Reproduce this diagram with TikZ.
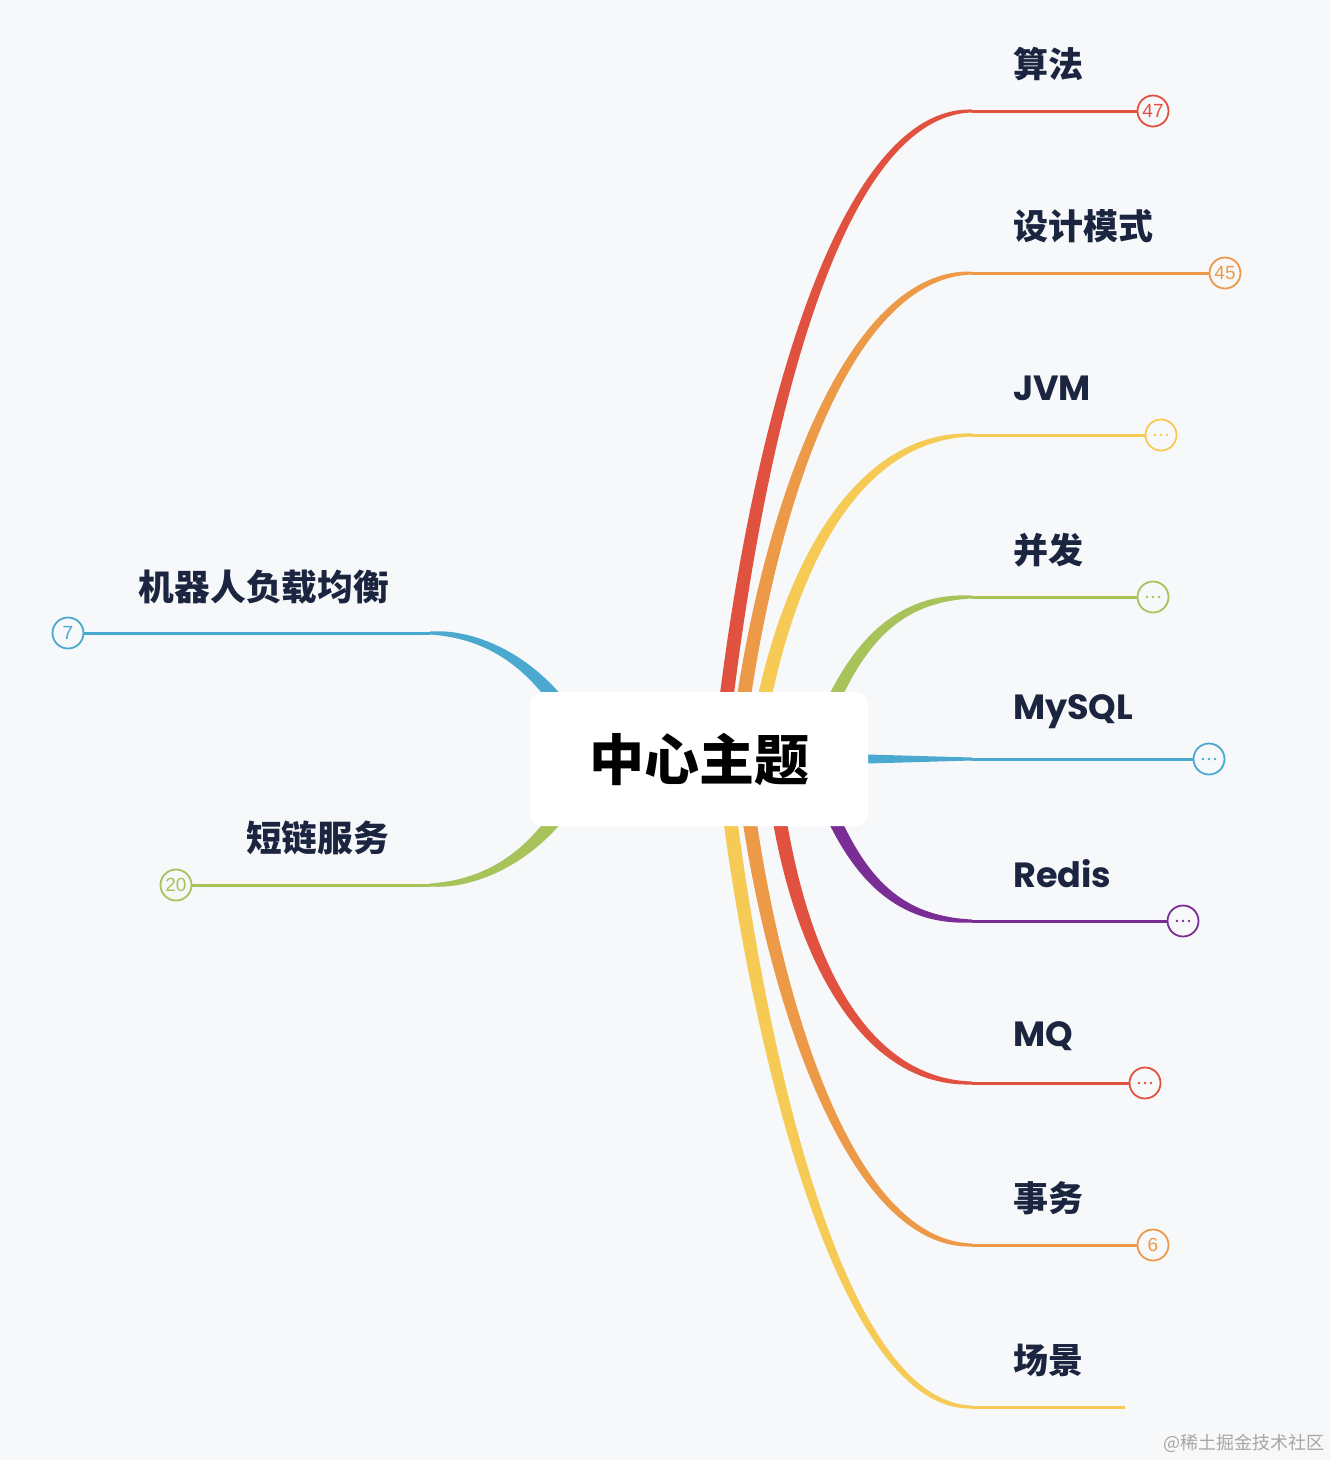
\documentclass[tikz,border=0pt]{standalone}
\usepackage{fontspec}
\newfontfamily\cjk{Noto Sans CJK SC}
\newfontfamily\latf{Poppins}
\setmainfont{Liberation Sans}
\definecolor{bg}{HTML}{F7F8FA}
\definecolor{cR}{HTML}{E0523F}
\definecolor{cO}{HTML}{EC9A48}
\definecolor{cY}{HTML}{F5CB55}
\definecolor{cG}{HTML}{A7C35A}
\definecolor{cB}{HTML}{4BA9CF}
\definecolor{cP}{HTML}{7A2E95}
\definecolor{navy}{HTML}{1B2540}
\newcommand\brUp[9]{\fill[#1] (#2-7,#3) .. controls (#4-7,#5) and (#6-2,#7-5) .. (#8,#9-1.5) -- (#8,#9+1.5) .. controls (#6+2,#7+5) and (#4+7,#5) .. (#2+7,#3) -- cycle;}
\newcommand\brDn[9]{\fill[#1] (#2-7,#3) .. controls (#4-7,#5) and (#6-2,#7+5) .. (#8,#9+1.5) -- (#8,#9-1.5) .. controls (#6+2,#7-5) and (#4+7,#5) .. (#2+7,#3) -- cycle;}
\tikzset{
  lab/.style={anchor=west, text=navy, inner sep=0pt, font=\cjk\bfseries\fontsize{35}{40}\selectfont},
  latlab/.style={anchor=west, text=navy, inner sep=0pt, font=\latf\bfseries\fontsize{35}{40}\selectfont},
  badge/.style={circle, draw=#1, line width=1.8pt, fill=bg, minimum size=31pt, inner sep=0pt, text=#1, font=\fontsize{19}{20}\selectfont},
  hline/.style={line width=3pt, draw=#1},
}
\newcommand\threedots[2]{\fill[#1] (#2) ++(-6,0) circle (1.3) ++(6,0) circle (1.3) ++(6,0) circle (1.3);}
\begin{document}
\begin{tikzpicture}[x=1pt,y=-1pt]
\fill[bg] (0,0) rectangle (1330,1460);
\useasboundingbox (0,0) rectangle (1330,1460);
% ---- right upper branches
\brUp{cO}{742}{710}{772}{500}{850}{273}{972}{273}
\brUp{cR}{725}{710}{760}{420}{840}{111}{972}{111}
\brUp{cY}{762}{710}{792}{560}{860}{435}{972}{435}
\brUp{cG}{828}{712}{860}{640}{900}{597}{972}{597}
% MySQL straight tapered
\fill[cB] (850,754) -- (972,757.5) -- (972,760.5) -- (850,764) -- cycle;
% ---- right lower branches
\brDn{cP}{828}{806}{860}{880}{900}{921}{972}{921}
\brDn{cR}{778}{810}{800}{950}{860}{1083}{972}{1083}
\brDn{cO}{748}{810}{775}{1000}{850}{1245}{972}{1245}
\brDn{cY}{729}{810}{760}{1050}{840}{1407}{972}{1407}
% ---- left branches
\fill[cB] (574,712) .. controls (539,660) and (480,628) .. (430,631.5) -- (430,634.5) .. controls (480,638) and (521,660) .. (556,712) -- cycle;
\fill[cG] (574,806) .. controls (539,858) and (480,890) .. (430,886.5) -- (430,883.5) .. controls (480,880) and (521,858) .. (556,806) -- cycle;
% ---- centre
\node[fill=white, rounded corners=12pt, minimum width=338pt, minimum height=134pt, inner sep=0pt, font=\cjk\bfseries\fontsize{55}{60}\selectfont] (c) at (699,759) {中心主题};
% ---- ends, badges, labels
\coordinate (e1) at (972,111);
\node[badge=cR] (b1) at (1153,111) {47};
\draw[hline=cR] (e1) -- (b1);
\node[lab] (l1) at (1013,64) {算法};
\coordinate (e2) at (972,273);
\node[badge=cO] (b2) at (1225,273) {45};
\draw[hline=cO] (e2) -- (b2);
\node[lab] (l2) at (1013,226) {设计模式};
\coordinate (e3) at (972,435);
\node[badge=cY] (b3) at (1161,435) {};
\threedots{cY}{b3}
\draw[hline=cY] (e3) -- (b3);
\node[latlab] (l3) at (1013,388) {JVM};
\coordinate (e4) at (972,597);
\node[badge=cG] (b4) at (1153,597) {};
\threedots{cG}{b4}
\draw[hline=cG] (e4) -- (b4);
\node[lab] (l4) at (1013,550) {并发};
\coordinate (e5) at (972,759);
\node[badge=cB] (b5) at (1209,759) {};
\threedots{cB}{b5}
\draw[hline=cB] (e5) -- (b5);
\node[latlab] (l5) at (1013,712) {MySQL};
\coordinate (e6) at (972,921);
\node[badge=cP] (b6) at (1183,921) {};
\threedots{cP}{b6}
\draw[hline=cP] (e6) -- (b6);
\node[latlab] (l6) at (1013,874) {Redis};
\coordinate (e7) at (972,1083);
\node[badge=cR] (b7) at (1145,1083) {};
\threedots{cR}{b7}
\draw[hline=cR] (e7) -- (b7);
\node[latlab] (l7) at (1013,1036) {MQ};
\coordinate (e8) at (972,1245);
\node[badge=cO] (b8) at (1153,1245) {6};
\draw[hline=cO] (e8) -- (b8);
\node[lab] (l8) at (1013,1198) {事务};
\coordinate (e9) at (972,1407);
\coordinate (f9) at (1125,1407);
\draw[hline=cY] (e9) -- (f9);
\node[lab] (l9) at (1013,1360) {场景};
% left
\coordinate (e10) at (430,633);
\node[badge=cB] (b10) at (68,633) {7};
\draw[hline=cB] (e10) -- (b10);
\node[lab, anchor=east, font=\cjk\bfseries\fontsize{35.7}{40}\selectfont] (l10) at (389,587) {机器人负载均衡};
\coordinate (e11) at (430,885);
\node[badge=cG] (b11) at (176,885) {20};
\draw[hline=cG] (e11) -- (b11);
\node[lab, anchor=east, font=\cjk\bfseries\fontsize{35.7}{40}\selectfont] (l11) at (389,838) {短链服务};
% watermark
\node[anchor=east, inner sep=0pt, text=black!35, font=\cjk\fontsize{18}{20}\selectfont] (wm) at (1325,1443) {@稀土掘金技术社区};
\end{tikzpicture}
\end{document}
